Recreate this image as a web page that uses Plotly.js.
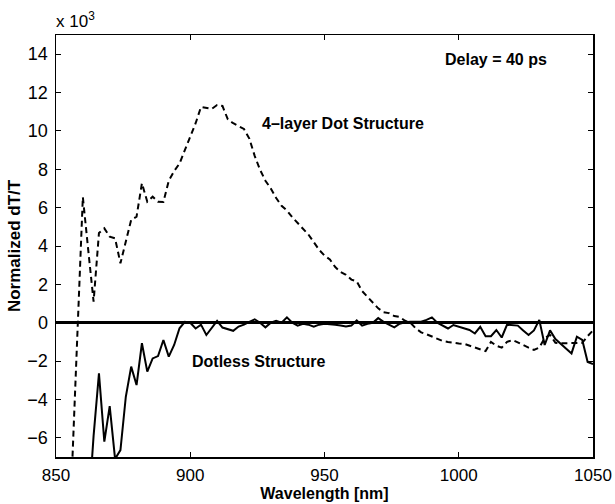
<!DOCTYPE html>
<html>
<head>
<meta charset="utf-8">
<script src="https://cdn.plot.ly/plotly-3.0.1.min.js"></script>
<style>html,body{margin:0;padding:0;background:#fff;}#chart{width:615px;height:504px;}</style>
</head>
<body>
<div id="chart"></div>
<script>
// Wavelength grid [nm]
const wavelength = [856,858,860,862,864,866,868,870,872,874,876,878,880,882,884,886,888,890,892,894,896,898,900,902,904,906,908,910,912,914,916,918,920,922,924,926,928,930,932,934,936,938,940,942,944,946,948,950,952,954,956,958,960,962,964,966,968,970,972,974,976,978,980,982,984,986,988,990,992,994,996,998,1000,1002,1004,1006,1008,1010,1012,1014,1016,1018,1020,1022,1024,1026,1028,1030,1032,1034,1036,1038,1040,1042,1044,1046,1048,1050];

// 4-layer Dot Structure (dashed), Normalized dT/T x 10^3
const dotStructure = [-7.5,-0.2,6.55,3.8,1.1,4.68,4.92,4.49,4.4,3.1,4.3,5.36,5.53,7.27,6.31,6.57,6.31,6.3,7.4,7.9,8.3,9.0,9.6,10.4,11.25,11.2,11.15,11.35,11.3,10.6,10.4,10.25,10.1,9.6,8.7,7.97,7.4,7.0,6.5,6.1,5.85,5.5,5.2,4.9,4.6,4.2,3.8,3.5,3.3,2.9,2.65,2.5,2.25,2.15,1.65,1.35,1.05,0.75,0.55,0.5,0.35,0.3,0.1,0.0,-0.3,-0.5,-0.6,-0.73,-0.85,-0.95,-1.0,-1.05,-1.08,-1.1,-1.2,-1.3,-1.4,-1.48,-1.0,-1.2,-1.3,-1.0,-0.9,-1.05,-1.16,-1.3,-1.42,-1.3,-0.8,-0.64,-1.05,-1.07,-1.07,-1.05,-1.05,-1.05,-0.7,-0.4];

// Dotless Structure (solid)
const dotless = [null,null,null,-10,-5.9,-2.64,-6.2,-4.35,-7.1,-6.64,-3.86,-2.29,-3.25,-1.07,-2.55,-1.86,-1.74,-0.9,-1.77,-1.16,-0.29,0.05,0.0,-0.3,-0.1,-0.64,-0.3,0.1,-0.25,-0.35,-0.42,-0.2,-0.1,0.05,0.18,0.0,-0.24,0.0,0.1,0.0,0.28,0.0,-0.15,-0.05,-0.1,-0.21,-0.1,-0.05,-0.07,-0.1,-0.15,-0.2,-0.15,0.12,-0.15,-0.05,0.0,0.24,0.05,-0.1,-0.24,-0.05,0.02,0.05,0.05,0.05,0.15,0.28,0.0,-0.15,-0.3,-0.12,-0.2,-0.3,-0.38,-0.56,-0.21,-0.7,-0.7,-0.38,-0.77,-0.1,-0.12,-0.15,-0.4,-0.64,-0.4,0.15,-1.16,-0.4,-0.85,-1.1,-1.4,-1.6,-0.73,-0.9,-2.05,-2.15];

const labels = {
  dot: "4\u2013layer Dot Structure",
  dotless: "Dotless Structure",
  delay: "Delay = 40 ps",
  scale: "x 10<sup>3</sup>"
};

const font = "'Liberation Sans', Arial, Helvetica, sans-serif";

const traces = [
  {x: wavelength, y: dotStructure, type: 'scatter', mode: 'lines', name: labels.dot,
   line: {color: '#000', width: 2, dash: '6px,4px'}, connectgaps: false},
  {x: wavelength, y: dotless, type: 'scatter', mode: 'lines', name: labels.dotless,
   line: {color: '#000', width: 2}, connectgaps: false}
];

const axisCommon = {
  showline: true, linecolor: '#000', linewidth: 1.5, mirror: 'ticks',
  ticks: 'inside', ticklen: 5, tickwidth: 1, tickcolor: '#000',
  showgrid: false, tickfont: {family: font, size: 18, color: '#000'}
};

const layout = {
  width: 615, height: 504,
  margin: {l: 56, r: 22, t: 35, b: 47},
  paper_bgcolor: '#fff', plot_bgcolor: '#fff',
  showlegend: false,
  font: {family: font, color: '#000'},
  xaxis: Object.assign({}, axisCommon, {
    range: [850, 1050], tick0: 850, dtick: 50, zeroline: false,
    ticklabelstandoff: 2,
    tickfont: {family: font, size: 17, color: '#000'},
    title: {text: 'Wavelength [nm]', font: {family: font, size: 16, color: '#000', weight: 'bold'}, standoff: 3}
  }),
  yaxis: Object.assign({}, axisCommon, {
    range: [-7, 15], tick0: 0, dtick: 2,
    zeroline: true, zerolinecolor: '#000', zerolinewidth: 3,
    ticklabelstandoff: 3,
    title: {text: 'Normalized dT/T', font: {family: font, size: 17, color: '#000', weight: 'bold'}, standoff: 2}
  }),
  annotations: [
    {x: 925.8, y: 10.4, xref: 'x', yref: 'y', xanchor: 'left', yanchor: 'middle', showarrow: false,
     text: labels.dot, font: {family: font, size: 16, color: '#000', weight: 'bold'}},
    {x: 899.8, y: -2.03, xref: 'x', yref: 'y', xanchor: 'left', yanchor: 'middle', showarrow: false,
     text: labels.dotless, font: {family: font, size: 16, color: '#000', weight: 'bold'}},
    {x: 1013.8, y: 13.7, xref: 'x', yref: 'y', xanchor: 'center', yanchor: 'middle', showarrow: false,
     text: labels.delay, font: {family: font, size: 16, color: '#000', weight: 'bold'}},
    {x: 0, y: 1, xref: 'paper', yref: 'paper', xanchor: 'left', yanchor: 'bottom', showarrow: false,
     xshift: -2, yshift: 2, text: labels.scale, font: {family: font, size: 17, color: '#000'}}
  ]
};

Plotly.newPlot('chart', traces, layout, {displayModeBar: false, staticPlot: true});
</script>
</body>
</html>
